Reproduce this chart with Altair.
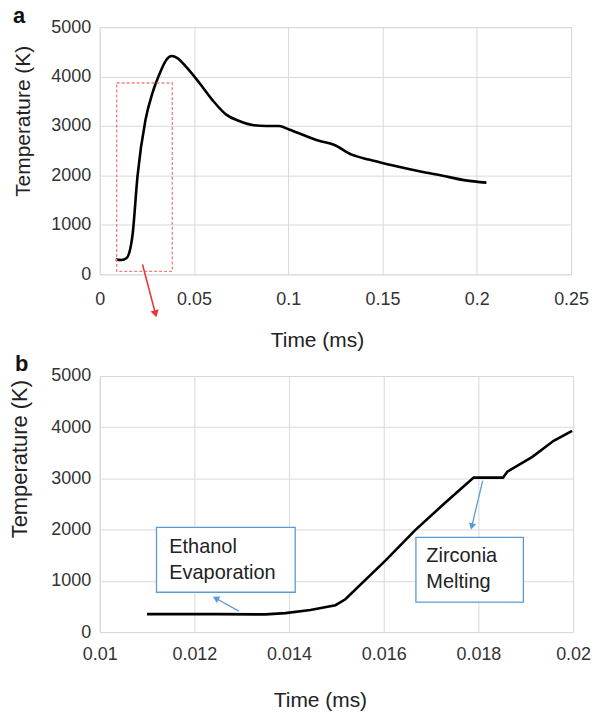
import altair as alt
import pandas as pd

FONT = "Liberation Sans"

# ---------------- Panel a data ----------------
a_time = [0.0085, 0.0115, 0.0143, 0.0174, 0.0201, 0.0243, 0.0280, 0.0317, 0.0354, 0.0381,
          0.0412, 0.0460, 0.0529, 0.0597, 0.0671, 0.0740, 0.0810, 0.0883, 0.0951, 0.1004,
          0.1163, 0.1242, 0.1337, 0.1427, 0.1533, 0.1676, 0.1813, 0.1940, 0.2051]
a_temp = [300, 290, 330, 790, 2000, 3125, 3670, 4050, 4340, 4415,
          4375, 4190, 3870, 3530, 3230, 3100, 3020, 3000, 3000, 2930,
          2700, 2620, 2420, 2320, 2220, 2100, 2000, 1900, 1855]

# zoom box and arrow (data coordinates)
a_box = {"t0": 0.009, "t1": 0.0385, "T0": 60, "T1": 3870}
a_arrow = {"t0": 0.0227, "T0": 200, "t1": 0.0296, "T1": -800}

a_xticks = [0, 0.05, 0.1, 0.15, 0.2, 0.25]
y_ticks = [0, 1000, 2000, 3000, 4000, 5000]

# ---------------- Panel b data ----------------
b_time = [0.0110, 0.0125, 0.0135, 0.01392, 0.01445, 0.01498, 0.01519, 0.01604, 0.01666,
          0.01728, 0.01790, 0.01852, 0.01861, 0.01914, 0.01959, 0.01998]
b_temp = [350, 350, 345, 370, 430, 525, 640, 1400, 1985,
          2510, 3015, 3015, 3130, 3420, 3735, 3930]

b_xticks = [0.01, 0.012, 0.014, 0.016, 0.018, 0.02]

b_boxes_t0 = [0.0112, 0.01668]
b_boxes_t1 = [0.01413, 0.01895]
b_boxes_T0 = [778, 584]
b_boxes_T1 = [2043, 1848]

b_text = ["Ethanol", "Evaporation", "Zirconia", "Melting"]
b_text_t = [0.01147, 0.01147, 0.0169, 0.0169]
b_text_T = [1654, 1148, 1479, 973]

b_arrow_t0 = [0.01294, 0.01809]
b_arrow_T0 = [409, 2957]
b_arrow_t1 = [0.01245, 0.01786]
b_arrow_T1 = [661, 2062]
b_arrow_angle = [298, 193]

GRID = "#d9d9d9"
BLUE = "#5b9bd5"

def y_axis(title_x, title_y, title_size):
    return alt.Axis(values=y_ticks, format="d", title="Temperature (K)",
                    grid=True, gridColor=GRID, domain=False, ticks=False,
                    labelFontSize=18, labelFont=FONT, labelColor="#333", labelPadding=9,
                    titleFontSize=title_size, titleFont=FONT, titleFontWeight="normal",
                    titleColor="#222", titleX=title_x, titleY=title_y, titleBaseline="middle")

def x_axis(vals, title_x, title_y, pad):
    return alt.Axis(values=vals, format="~g", title="Time (ms)",
                    grid=True, gridColor=GRID, domain=False, ticks=False,
                    labelFontSize=18, labelFont=FONT, labelColor="#333", labelPadding=pad,
                    labelFlush=False,
                    titleFontSize=21, titleFont=FONT, titleFontWeight="normal",
                    titleColor="#222", titleX=title_x, titleY=title_y, titleBaseline="middle")

# ---------- chart a ----------
dfa = pd.DataFrame({"t": a_time, "T": a_temp})
xa = alt.X("t:Q", scale=alt.Scale(domain=[0, 0.25], nice=False), axis=x_axis(a_xticks, 218, 66, 16))
ya = alt.Y("T:Q", scale=alt.Scale(domain=[0, 5000], nice=False), axis=y_axis(-76, 94, 21))

line_a = alt.Chart(dfa).mark_line(color="black", strokeWidth=2.6, interpolate="monotone").encode(x=xa, y=ya)

box_a = alt.Chart(pd.DataFrame([a_box])).mark_rect(
    fill=None, fillOpacity=0, stroke="#f08080", strokeWidth=1.3, strokeDash=[3, 2]
).encode(x=alt.X("t0:Q", scale=alt.Scale(domain=[0, 0.25], nice=False)), x2="t1:Q",
         y=alt.Y("T0:Q", scale=alt.Scale(domain=[0, 5000], nice=False)), y2="T1:Q")

arrow_a = alt.Chart(pd.DataFrame([a_arrow])).mark_rule(color="#e8333a", strokeWidth=1.6, clip=False).encode(
    x="t0:Q", y="T0:Q", x2="t1:Q", y2="T1:Q")
head_a = alt.Chart(pd.DataFrame([a_arrow])).mark_point(
    shape="triangle-up", filled=True, color="#e8333a", size=70, angle=165, opacity=1, clip=False
).encode(x="t1:Q", y="T1:Q")

label_a = alt.Chart(pd.DataFrame({"s": ["a"]})).mark_text(
    text="a", font=FONT, fontSize=22, fontWeight="bold", align="left", baseline="alphabetic", color="#111"
).encode(x=alt.value(-87), y=alt.value(-4))

chart_a = alt.layer(line_a, box_a, arrow_a, head_a, label_a).properties(width=473, height=248)

# ---------- chart b ----------
dfb = pd.DataFrame({"t": b_time, "T": b_temp})
sxb = alt.Scale(domain=[0.01, 0.02], nice=False)
syb = alt.Scale(domain=[0, 5000], nice=False)
xb = alt.X("t:Q", scale=sxb, axis=x_axis(b_xticks, 221, 69, 14))
yb = alt.Y("T:Q", scale=syb, axis=y_axis(-80, 83, 22))

line_b = alt.Chart(dfb).mark_line(color="black", strokeWidth=2.6).encode(x=xb, y=yb)

dfbox = pd.DataFrame({"t0": b_boxes_t0, "t1": b_boxes_t1, "T0": b_boxes_T0, "T1": b_boxes_T1})
boxes_b = alt.Chart(dfbox).mark_rect(fill="white", stroke=BLUE, strokeWidth=1.3).encode(
    x=alt.X("t0:Q", scale=sxb), x2="t1:Q", y=alt.Y("T0:Q", scale=syb), y2="T1:Q")

dftext = pd.DataFrame({"txt": b_text, "t": b_text_t, "T": b_text_T})
text_b = alt.Chart(dftext).mark_text(font=FONT, fontSize=20, align="left", baseline="middle", color="#222").encode(
    x=alt.X("t:Q", scale=sxb), y=alt.Y("T:Q", scale=syb), text="txt:N")

dfarr = pd.DataFrame({"t0": b_arrow_t0, "T0": b_arrow_T0, "t1": b_arrow_t1, "T1": b_arrow_T1, "ang": b_arrow_angle})
arrows_b = alt.Chart(dfarr).mark_rule(color=BLUE, strokeWidth=1.3).encode(
    x=alt.X("t0:Q", scale=sxb), y=alt.Y("T0:Q", scale=syb), x2="t1:Q", y2="T1:Q")
heads_b = alt.Chart(dfarr).mark_point(shape="triangle-up", filled=True, color=BLUE, size=55, opacity=1).encode(
    x=alt.X("t1:Q", scale=sxb), y=alt.Y("T1:Q", scale=syb),
    angle=alt.Angle("ang:Q", scale=None))

label_b = alt.Chart(pd.DataFrame({"s": ["b"]})).mark_text(
    text="b", font=FONT, fontSize=22, fontWeight="bold", align="left", baseline="alphabetic", color="#111"
).encode(x=alt.value(-85), y=alt.value(-5))

chart_b = alt.layer(line_b, boxes_b, text_b, arrows_b, heads_b, label_b).properties(width=475, height=257)

chart = alt.vconcat(chart_a, chart_b, spacing=1).properties(
    padding={"left": 0, "top": -5, "right": 5, "bottom": 5}
).configure_view(stroke=GRID, strokeWidth=1.2).configure(background="white")

chart.save("out.html", embed_options={"renderer": "svg", "actions": False})
